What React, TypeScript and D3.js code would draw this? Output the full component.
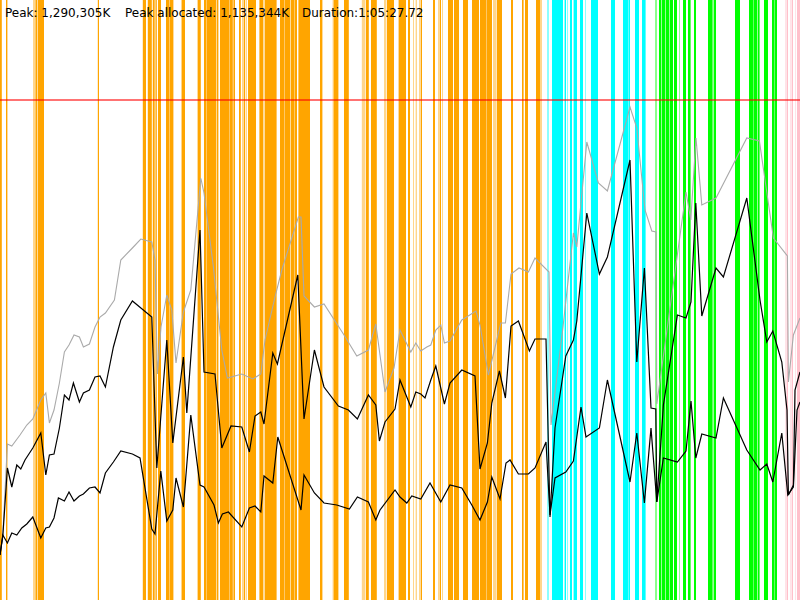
import * as d3 from "d3";

// time in seconds, memory in scaled units
const totalLine: [number, number][] = [
  [0, 90], [14, 130], [37, 312], [59, 308], [100, 330], [134, 350], [164, 362], [204, 400],
  [229, 414], [247, 354], [270, 380], [297, 434], [322, 496], [345, 510], [370, 530], [397, 526],
  [417, 506], [447, 512], [475, 546], [500, 566], [527, 574], [572, 600], [604, 680], [662, 704],
  [704, 722], [759, 716], [775, 680], [787, 452], [805, 546], [834, 610], [859, 580], [880, 474],
  [917, 576], [954, 620], [1004, 844], [1020, 814], [1067, 666], [1109, 500], [1137, 444], [1209, 452],
  [1264, 442], [1304, 452], [1325, 520], [1375, 606], [1409, 660], [1492, 766], [1505, 766], [1520, 608],
  [1572, 586], [1620, 592], [1717, 532], [1784, 488], [1842, 500], [1879, 552], [1925, 416], [1970, 464],
  [2000, 540], [2054, 496], [2079, 514], [2104, 498], [2134, 506], [2154, 510], [2179, 540], [2204, 550],
  [2222, 514], [2250, 518], [2309, 560], [2380, 578], [2400, 550], [2442, 450], [2504, 554], [2527, 554],
  [2555, 652], [2595, 664], [2642, 656], [2675, 684], [2745, 656], [2755, 350], [2815, 546], [2867, 734],
  [2884, 706], [2934, 916], [2992, 834], [3037, 818], [3150, 986], [3184, 944], [3225, 780], [3259, 738],
  [3280, 736], [3284, 392], [3430, 816], [3454, 760], [3480, 924], [3509, 790], [3580, 804], [3734, 924],
  [3797, 918], [3867, 724], [3937, 688], [3942, 436], [3967, 530], [4000, 564],
];

const allocatedLine: [number, number][] = [
  [0, 90], [14, 128], [37, 264], [59, 226], [84, 270], [104, 262], [125, 280], [164, 304],
  [204, 334], [229, 250], [247, 290], [270, 292], [297, 344], [322, 410], [345, 400], [367, 434],
  [397, 396], [417, 414], [447, 420], [475, 446], [500, 448], [527, 426], [567, 506], [604, 560],
  [662, 598], [759, 566], [784, 264], [834, 520], [864, 314], [917, 486], [934, 374], [1000, 740],
  [1020, 456], [1075, 452], [1109, 304], [1155, 348], [1209, 346], [1247, 296], [1275, 368], [1304, 376],
  [1320, 352], [1364, 494], [1387, 472], [1489, 650], [1520, 362], [1572, 500], [1620, 426], [1692, 388],
  [1742, 380], [1787, 362], [1842, 410], [1879, 390], [1897, 318], [1925, 356], [1975, 382], [2000, 440],
  [2054, 386], [2079, 416], [2104, 412], [2125, 404], [2154, 440], [2179, 468], [2222, 392], [2250, 434],
  [2309, 460], [2375, 448], [2400, 262], [2437, 314], [2459, 394], [2497, 458], [2527, 404], [2555, 548],
  [2592, 558], [2647, 498], [2675, 522], [2730, 522], [2750, 166], [2775, 344], [2829, 488], [2867, 520],
  [2884, 558], [2934, 774], [2997, 652], [3037, 686], [3150, 880], [3184, 476], [3222, 664], [3255, 384],
  [3279, 382], [3284, 196], [3317, 390], [3387, 570], [3430, 564], [3455, 596], [3479, 794], [3509, 568],
  [3580, 664], [3617, 646], [3734, 804], [3800, 600], [3834, 516], [3864, 538], [3909, 476], [3935, 380],
  [3942, 210], [3967, 230], [3975, 420], [4000, 456],
];

const liveLine: [number, number][] = [
  [0, 90], [14, 130], [37, 114], [59, 134], [84, 130], [109, 144], [134, 152], [164, 166],
  [204, 124], [229, 144], [247, 146], [270, 164], [292, 204], [322, 198], [345, 216], [370, 198],
  [397, 208], [417, 212], [447, 224], [475, 226], [500, 214], [527, 254], [567, 276], [604, 298],
  [662, 292], [700, 284], [759, 142], [775, 132], [804, 258], [834, 158], [864, 180], [880, 244],
  [917, 186], [954, 370], [1000, 230], [1020, 226], [1070, 190], [1092, 154], [1112, 172], [1142, 176],
  [1209, 146], [1247, 184], [1275, 188], [1304, 176], [1320, 248], [1364, 234], [1389, 326], [1505, 180],
  [1520, 250], [1572, 214], [1620, 194], [1684, 190], [1747, 182], [1787, 206], [1842, 196], [1879, 160],
  [1900, 180], [1975, 220], [2000, 206], [2034, 194], [2059, 208], [2104, 202], [2150, 234], [2204, 196],
  [2250, 230], [2309, 224], [2359, 190], [2400, 160], [2437, 196], [2459, 246], [2500, 202], [2530, 274],
  [2550, 280], [2592, 252], [2642, 252], [2675, 264], [2730, 316], [2750, 170], [2775, 244], [2829, 256],
  [2867, 278], [2905, 386], [2930, 326], [2997, 344], [3037, 440], [3150, 236], [3184, 334], [3222, 194],
  [3255, 344], [3284, 196], [3317, 284], [3387, 276], [3430, 298], [3455, 398], [3479, 284], [3509, 332],
  [3580, 324], [3617, 404], [3734, 300], [3800, 260], [3834, 272], [3864, 236], [3909, 334], [3939, 210],
  [3967, 226], [3985, 380], [4000, 396],
];

// event spans [start, end, faint]
const orangeSpans: [number, number, number][] = [
  [0, 9, 0], [30, 37, 0], [165, 175, 1], [177, 185, 0], [188, 220, 0], [489, 495, 0],
  [714, 730, 0], [739, 759, 0], [764, 773, 0], [773, 778, 1], [778, 784, 0], [790, 805, 0],
  [830, 848, 0], [850, 867, 0], [905, 910, 1], [910, 925, 0], [988, 1004, 0],
  [1020, 1033, 0], [1035, 1080, 0], [1083, 1092, 0], [1100, 1148, 0], [1150, 1164, 0], [1167, 1175, 0],
  [1195, 1204, 0], [1210, 1215, 1], [1218, 1225, 0], [1228, 1235, 1], [1240, 1280, 0], [1297, 1317, 0],
  [1323, 1383, 0], [1400, 1423, 0], [1425, 1450, 0], [1453, 1473, 0], [1475, 1485, 0], [1492, 1550, 0],
  [1600, 1612, 0], [1663, 1668, 1], [1668, 1692, 0], [1720, 1744, 0], [1809, 1825, 1], [1829, 1844, 0],
  [1855, 1884, 0], [1920, 1930, 1], [1934, 1970, 0], [1993, 2030, 0], [2040, 2050, 0], [2065, 2070, 1],
  [2078, 2085, 1], [2095, 2100, 1], [2103, 2110, 0], [2165, 2175, 0], [2190, 2195, 1], [2198, 2205, 0],
  [2210, 2215, 1], [2240, 2265, 0], [2270, 2295, 0], [2315, 2340, 0], [2360, 2395, 0], [2400, 2433, 0],
  [2435, 2460, 0], [2465, 2483, 1], [2485, 2510, 0], [2555, 2565, 0], [2610, 2618, 0], [2625, 2640, 0],
  [2680, 2700, 0], [2700, 2710, 1],
];

const cyanSpans: [number, number, number][] = [
  [2735, 2745, 1], [2760, 2815, 0], [2823, 2830, 0], [2835, 2840, 1], [2850, 2860, 0], [2868, 2885, 0],
  [2900, 2915, 0], [2925, 2930, 1], [2955, 2990, 0], [3055, 3075, 0], [3115, 3143, 0], [3145, 3150, 0],
  [3175, 3195, 0], [3210, 3228, 0],
];

const greenSpans: [number, number, number][] = [
  [3275, 3285, 1], [3295, 3305, 0], [3308, 3325, 0], [3328, 3345, 0], [3348, 3365, 0], [3370, 3385, 0],
  [3395, 3400, 1], [3415, 3430, 0], [3440, 3453, 0], [3470, 3480, 0], [3540, 3563, 0], [3568, 3580, 0],
  [3675, 3700, 0], [3745, 3768, 0], [3770, 3785, 0], [3788, 3798, 0], [3820, 3840, 0], [3860, 3873, 0],
  [3875, 3885, 0],
];

const pinkSpans: [number, number, number][] = [
  [3925, 3935, 1], [3935, 3940, 0], [3950, 3955, 1], [3958, 3965, 0], [3975, 3980, 1], [3985, 4000, 0],
];

const limitValue = 1000;
const headerLabels = ["Peak: 1,290,305K", "Peak allocated: 1,135,344K", "Duration:1:05:27.72"];
const headerX = [5, 125, 302];

const W = 800;
const H = 600;

export default function App() {
  const x = d3.scaleLinear().domain([0, 4000]).range([0, W]);
  const y = d3.scaleLinear().domain([0, 1200]).range([H, 0]);

  const line = d3
    .line<[number, number]>()
    .x((d) => x(d[0]))
    .y((d) => y(d[1]));

  const spanGroups: [string, [number, number, number][]][] = [
    ["#ffa500", orangeSpans],
    ["#00ffff", cyanSpans],
    ["#00ff00", greenSpans],
    ["#ffc0cb", pinkSpans],
  ];

  return (
    <svg
      width={W}
      height={H}
      style={{ position: "fixed", left: 0, top: 0, background: "#fff" }}
    >
      {spanGroups.map(([color, spans]) =>
        spans.map((s, i) => (
          <rect
            key={color + i}
            x={x(s[0])}
            y={0}
            width={x(s[1]) - x(s[0])}
            height={H}
            fill={color}
            opacity={s[2] ? 0.45 : 1}
          />
        ))
      )}
      <line
        x1={0}
        x2={W}
        y1={y(limitValue)}
        y2={y(limitValue)}
        stroke="#ff0000"
        strokeOpacity={0.55}
        strokeWidth={2}
      />
      <path d={line(totalLine) ?? ""} fill="none" stroke="#aaaaaa" strokeWidth={1.1} />
      <path d={line(allocatedLine) ?? ""} fill="none" stroke="#000" strokeWidth={1.2} />
      <path d={line(liveLine) ?? ""} fill="none" stroke="#000" strokeWidth={1.2} />
      {headerLabels.map((t, i) => (
        <text
          key={t}
          x={headerX[i]}
          y={17}
          fontFamily="DejaVu Sans"
          fontSize={12}
          fill="#000"
        >
          {t}
        </text>
      ))}
    </svg>
  );
}
